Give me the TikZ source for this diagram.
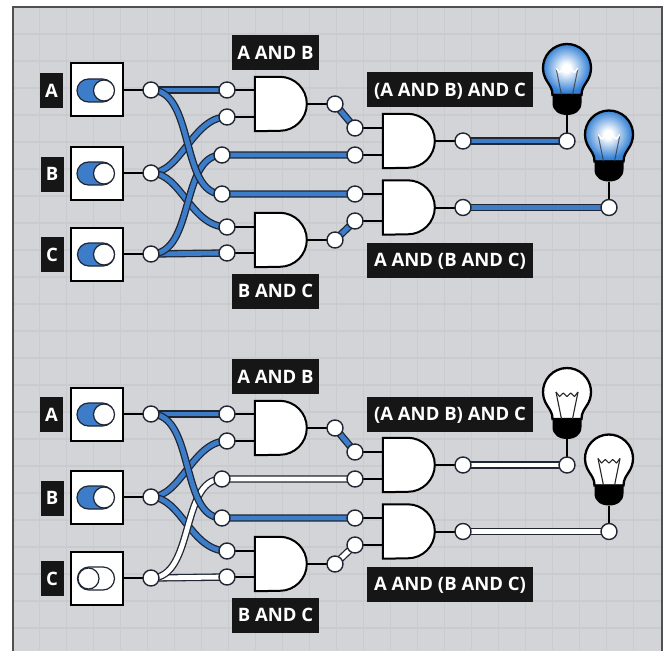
\documentclass[tikz,border=0pt]{standalone}
\usepackage{fontspec}
\setmainfont{Open Sans}
\usetikzlibrary{calc}
\definecolor{bgray}{HTML}{D3D4D8}
\definecolor{gridc}{HTML}{CACBCF}
\definecolor{wireblue}{HTML}{3D7CC9}
\definecolor{wireedge}{HTML}{1E2733}
\definecolor{lblbg}{HTML}{161616}
\definecolor{lampblue}{HTML}{3682D6}
\definecolor{framec}{HTML}{505050}
\pgfdeclarelayer{bg}
\pgfdeclarelayer{wires}
\pgfsetlayers{bg,wires,main}
\pgfdeclareradialshading{bulbglow}{\pgfpoint{0bp}{0bp}}{color(0bp)=(white); color(4bp)=(white); color(12bp)=(lampblue!45!white); color(22bp)=(lampblue); color(38bp)=(lampblue!85!black); color(50bp)=(lampblue!65!black); color(80bp)=(lampblue!65!black)}
\tikzset{
  lbl/.style={fill=lblbg, text=white, font=\bfseries\fontsize{18.5pt}{20pt}\selectfont, minimum height=35pt, inner sep=0pt, text height=13.3pt, text depth=0pt},
  swbox/.style={draw=black, fill=white, line width=2pt, minimum width=52pt, minimum height=53pt, inner sep=0pt},
  pill/.style={draw=wireedge, line width=1.2pt, rounded corners=11.5pt, minimum width=37pt, minimum height=23pt, inner sep=0pt},
  knob/.style={circle, draw=wireedge, fill=white, line width=1.2pt, minimum size=21pt, inner sep=0pt},
  pin/.style={circle, draw=wireedge, fill=white, line width=1.4pt, minimum size=16pt, inner sep=0pt},
  gatebox/.style={minimum width=52pt, minimum height=54pt, inner sep=0pt},
  gate/.style={draw=black, fill=white, line width=2pt},
  stub/.style={draw=black, line width=2pt},
  wireon/.style={draw=wireedge, line width=1.3pt, double=wireblue, double distance=4.8pt},
  wireoff/.style={draw=wireedge, line width=1.3pt, double=white, double distance=4.8pt},
  bulbon/.style={shade, shading=bulbglow, draw=black, line width=2.3pt},
  bulboff/.style={fill=white, draw=black, line width=2.3pt},
  filon/.style={draw=black!80, line width=1pt, opacity=.75},
  filoff/.style={draw=black!85, line width=1.1pt},
  filtopon/.style={draw=white, line width=1.5pt, line join=round},
  filtopoff/.style={draw=black!85, line width=1.1pt, line join=round},
  gridline/.style={draw=gridc, line width=1.4pt},
  framel/.style={draw=framec, line width=2pt}
}
\newcommand\lampdraw[3]{%
  \begin{scope}[shift={(#2,#3)}]
    \path[bulb] (-14.5,27) .. controls (-14.5,21) and (-17,18) .. (-19.66,13.77)
      arc[start angle=215, end angle=-35, radius=24pt]
      .. controls (17,18) and (14.5,21) .. (14.5,27) -- cycle;
    \fill[black] (-14.5,26) -- (14.5,26) -- (14.5,35) .. controls (14.5,43) and (8,47) .. (0,47)
      .. controls (-8,47) and (-14.5,43) .. (-14.5,35) -- cycle;
    \draw[filline] (-11,0) -- (-5.5,27) (11,0) -- (5.5,27);
    \draw[filtop] (-11,0) -- (-7.5,4.5) -- (-3.7,1) -- (0,4.5) -- (3.7,1) -- (7.5,4.5) -- (11,0);
    \coordinate (#1) at (0,47);
  \end{scope}}
\newcommand\circuit[3]{%
\begin{scope}[shift={(0,#2)}]
  \ifnum#3=1
    \tikzset{cw/.style={wireon}, cpill/.style={fill=wireblue}, bulb/.style={bulbon}, filline/.style={filon}, filtop/.style={filtopon}}%
    \def\knobx{104}%
  \else
    \tikzset{cw/.style={wireoff}, cpill/.style={fill=white}, bulb/.style={bulboff}, filline/.style={filoff}, filtop/.style={filtopoff}}%
    \def\knobx{88.5}%
  \fi
  % input labels
  \node[lbl, minimum width=23pt] (#1la) at (51.5,90.5) {A};
  \node[lbl, minimum width=23pt] (#1lb) at (52,174) {B};
  \node[lbl, minimum width=23pt] (#1lc) at (52,254.5) {C};
  % switches
  \node[swbox] (#1sa) at (96.5,90) {};
  \node[swbox] (#1sb) at (96.5,173) {};
  \node[swbox] (#1sc) at (97,254) {};
  \node[pill, fill=wireblue] (#1ta) at (95.5,90.5) {};
  \node[knob] (#1ka) at (104,90.5) {};
  \node[pill, fill=wireblue] (#1tb) at (95.5,173.5) {};
  \node[knob] (#1kb) at (104,173.5) {};
  \node[pill, cpill] (#1tc) at (96,254.5) {};
  \node[knob] (#1kc) at (\knobx,254.5) {};
  % gates
  \node[gatebox] (#1g1) at (281,104) {};
  \node[gatebox] (#1g2) at (281,240) {};
  \node[gatebox] (#1g3) at (409,141) {};
  \node[gatebox] (#1g4) at (409,207.5) {};
  \draw[gate] (#1g1.north west) -- ++(25,0) arc[start angle=90, end angle=-90, radius=27pt] -- (#1g1.south west) -- cycle;
  \draw[gate] (#1g2.north west) -- ++(25,0) arc[start angle=90, end angle=-90, radius=27pt] -- (#1g2.south west) -- cycle;
  \draw[gate] (#1g3.north west) -- ++(25,0) arc[start angle=90, end angle=-90, radius=27pt] -- (#1g3.south west) -- cycle;
  \draw[gate] (#1g4.north west) -- ++(25,0) arc[start angle=90, end angle=-90, radius=27pt] -- (#1g4.south west) -- cycle;
  % pins
  \node[pin] (#1pa) at (151,90) {};
  \node[pin] (#1pb) at (151,173) {};
  \node[pin] (#1pc) at (151,254) {};
  \node[pin] (#1i1a) at (227,90) {};
  \node[pin] (#1i1b) at (227,117) {};
  \node[pin] (#1m1) at (222,155) {};
  \node[pin] (#1m2) at (222,194) {};
  \node[pin] (#1i2a) at (227,227) {};
  \node[pin] (#1i2b) at (227,253) {};
  \node[pin] (#1o1) at (335,104) {};
  \node[pin] (#1o2) at (335,240) {};
  \node[pin] (#1i3a) at (355,128) {};
  \node[pin] (#1i3b) at (355,155) {};
  \node[pin] (#1i4a) at (355,194) {};
  \node[pin] (#1i4b) at (355,221) {};
  \node[pin] (#1o3) at (463,141) {};
  \node[pin] (#1o4) at (463,207.5) {};
  \node[pin] (#1q1) at (567,141) {};
  \node[pin] (#1q2) at (609,207.5) {};
  % gate labels
  \node[lbl, minimum width=87pt] (#1lab) at (275.5,52.5) {A AND B};
  \node[lbl, minimum width=87pt] (#1lbc) at (275.5,291) {B AND C};
  \node[lbl, minimum width=166pt] (#1labc) at (450,90) {(A AND B) AND C};
  \node[lbl, minimum width=166pt] (#1labcb) at (450,260) {A AND (B AND C)};
  % lamps
  \lampdraw{#1lb1}{567}{68}
  \lampdraw{#1lb2}{609}{134.5}
  \begin{pgfonlayer}{wires}
    \draw[stub] (#1sa.east) -- (#1pa.center);
    \draw[stub] (#1sb.east) -- (#1pb.center);
    \draw[stub] (#1sc.east) -- (#1pc.center);
    \draw[stub] (#1i1a.center) -- (#1i1a.center -| #1g1.west);
    \draw[stub] (#1i1b.center) -- (#1i1b.center -| #1g1.west);
    \draw[stub] (#1i2a.center) -- (#1i2a.center -| #1g2.west);
    \draw[stub] (#1i2b.center) -- (#1i2b.center -| #1g2.west);
    \draw[stub] (#1i3a.center) -- (#1i3a.center -| #1g3.west);
    \draw[stub] (#1i3b.center) -- (#1i3b.center -| #1g3.west);
    \draw[stub] (#1i4a.center) -- (#1i4a.center -| #1g4.west);
    \draw[stub] (#1i4b.center) -- (#1i4b.center -| #1g4.west);
    \draw[stub] (#1g1.east) -- (#1o1.center);
    \draw[stub] (#1g2.east) -- (#1o2.center);
    \draw[stub] (#1g3.east) -- (#1o3.center);
    \draw[stub] (#1g4.east) -- (#1o4.center);
    \draw[stub] (#1lb1) -- (#1q1.center);
    \draw[stub] (#1lb2) -- (#1q2.center);
    % wires
    \draw[wireon] (#1pa.center) -- (#1i1a.center);
    \draw[wireon] (#1pb.center) .. controls +(30,0) and +(-34,0) .. (#1i1b.center);
    \draw[wireon] (#1pb.center) .. controls +(30,0) and +(-36,0) .. (#1i2a.center);
    \draw[cw] (#1pc.center) -- (#1i2b.center);
    \draw[cw] (#1pc.center) .. controls +(44,0) and +(-42,0) .. (#1m1.center) -- (#1i3b.center);
    \draw[wireon] (#1pa.center) .. controls +(44,0) and +(-42,0) .. (#1m2.center) -- (#1i4a.center);
    \draw[wireon] (#1o1.center) -- (#1i3a.center);
    \draw[cw] (#1o2.center) -- (#1i4b.center);
    \draw[cw] (#1o3.center) -- (#1q1.center);
    \draw[cw] (#1o4.center) -- (#1q2.center);
  \end{pgfonlayer}
\end{scope}}
\begin{document}
\begin{tikzpicture}[x=1pt, y=-1pt]
  \useasboundingbox (0,0) rectangle (666,650);
  \begin{pgfonlayer}{bg}
    \fill[white] (0,0) rectangle (666,650);
    \fill[bgray] (12.5,7) rectangle (662,660);
    \foreach \i in {1,...,23} {
      \draw[gridline] ({12.5+27*\i},7) -- ({12.5+27*\i},650);
      \draw[gridline] (12.5,{7+27*\i}) -- (662,{7+27*\i});
    }
    \draw[framel] (12.5,660) -- (12.5,7) -- (662,7) -- (662,660);
  \end{pgfonlayer}
  \circuit{t}{0}{1}
  \circuit{b}{324}{0}
\end{tikzpicture}
\end{document}
